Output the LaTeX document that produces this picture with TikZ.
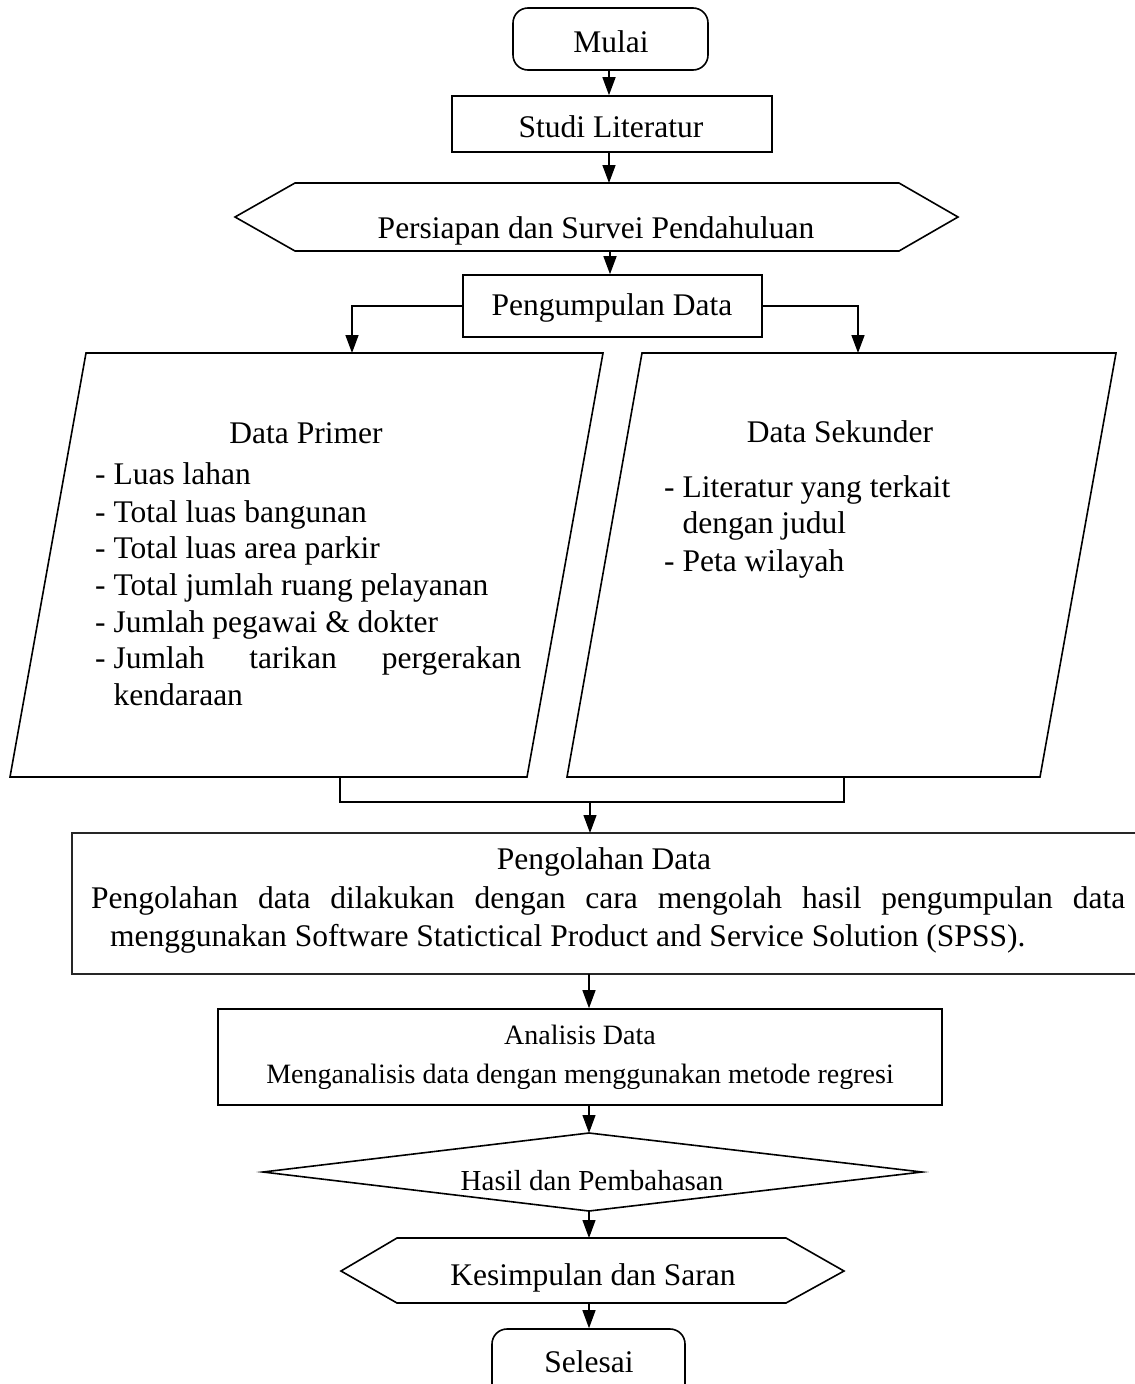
\documentclass[tikz,border=0pt]{standalone}
\usepackage{fontspec}
\setmainfont{Liberation Serif}
\usetikzlibrary{arrows.meta}
\begin{document}
\begin{tikzpicture}[x=1pt,y=-1pt,
  shp/.style={draw, line width=1.6pt, line join=miter, inner sep=0pt},
  arr/.style={line width=1.5pt, -{Triangle[width=13pt,length=18pt]}},
  ln/.style={line width=1.6pt},
  txt/.style={inner sep=0pt, anchor=base, font=\fontsize{31.5}{37}\selectfont},
  stxt/.style={inner sep=0pt, anchor=base, font=\fontsize{28}{33}\selectfont},
  ltxt/.style={inner sep=0pt, anchor=base west, font=\fontsize{31.5}{37}\selectfont},
]
\useasboundingbox (0,0) rectangle (1135,1384);
\clip (0,0) rectangle (1135,1384);
\fill[white] (0,0) rectangle (1135,1384);

% Mulai
\node[shp, rectangle, rounded corners=15pt, minimum width=195pt, minimum height=62pt] (mulai) at (610.5,39) {};
\node[txt] (mulaiT) at (611,52) {Mulai};

% Studi Literatur
\node[shp, rectangle, minimum width=320pt, minimum height=56pt] (studi) at (612,124) {};
\node[txt] (studiT) at (611,137) {Studi Literatur};

% Persiapan hexagon
\coordinate (pL) at (235,217);
\coordinate (pTL) at (295,183);
\coordinate (pTR) at (899,183);
\coordinate (pR) at (958,217);
\coordinate (pBR) at (899,251);
\coordinate (pBL) at (295,251);
\draw[ln, line join=miter] (pL) -- (pTL) -- (pTR) -- (pR) -- (pBR) -- (pBL) -- cycle;
\coordinate (pTop) at (609,183);
\coordinate (pBot) at (610,251);
\node[txt] (persT) at (596,238) {Persiapan dan Survei Pendahuluan};

% Pengumpulan Data
\node[shp, rectangle, minimum width=299pt, minimum height=62pt] (peng) at (612.5,306) {};
\node[txt] (pengT) at (612,315) {Pengumpulan Data};

% Parallelograms
\coordinate (a1) at (86,353);
\coordinate (a2) at (603,353);
\coordinate (a3) at (527,777);
\coordinate (a4) at (10,777);
\draw[ln, line join=miter] (a1) -- (a2) -- (a3) -- (a4) -- cycle;
\coordinate (b1) at (642,353);
\coordinate (b2) at (1116,353);
\coordinate (b3) at (1040,777);
\coordinate (b4) at (567,777);
\draw[ln, line join=miter] (b1) -- (b2) -- (b3) -- (b4) -- cycle;
\coordinate (p1top) at (352,353);
\coordinate (p2top) at (858,353);

\node[txt] (dpT) at (306,443) {Data Primer};
\node[ltxt] (dp1) at (95,484) {- Luas lahan};
\node[ltxt] (dp2) at (95,522) {- Total luas bangunan};
\node[ltxt] (dp3) at (95,558) {- Total luas area parkir};
\node[ltxt] (dp4) at (95,595) {- Total jumlah ruang pelayanan};
\node[ltxt] (dp5) at (95,632) {- Jumlah pegawai \& dokter};
\node[ltxt] (dp6) at (95,668) {\hbox to 426pt{- Jumlah\hfill tarikan\hfill pergerakan}};
\node[ltxt] (dp7) at (95,705) {\phantom{- }kendaraan};

\node[txt] (dsT) at (840,442) {Data Sekunder};
\node[ltxt] (ds1) at (664,497) {- Literatur yang terkait};
\node[ltxt] (ds2) at (664,533) {\phantom{- }dengan judul};
\node[ltxt] (ds3) at (664,571) {- Peta wilayah};

% merge
\coordinate (m1) at (340,777);
\coordinate (m2) at (844,777);
\coordinate (mj) at (590,802);
\draw[ln] (m1) -- (m1 |- mj) -- (m2 |- mj) -- (m2);

% Pengolahan
\coordinate (olTop) at (590,833);
\coordinate (olBot) at (589,974);
\draw[line width=1.4pt, black!85] (1140,833) -- (72,833) -- (72,974) -- (1140,974);
\node[txt] (olT) at (604,869) {Pengolahan Data};
\node[ltxt] (ol2) at (91,908) {\hbox to 1034pt{Pengolahan\hfill data\hfill dilakukan\hfill dengan\hfill cara\hfill mengolah\hfill hasil\hfill pengumpulan\hfill data}};
\node[ltxt] (ol3) at (110,946) {menggunakan Software Statictical Product and Service Solution (SPSS).};

% Analisis
\node[shp, rectangle, minimum width=724pt, minimum height=96pt] (anal) at (580,1057) {};
\node[stxt] (analT) at (580,1044) {Analisis Data};
\node[stxt] (anal2) at (580,1083) {Menganalisis data dengan menggunakan metode regresi};

% Diamond
\coordinate (dT) at (589,1133);
\coordinate (dR) at (922,1172);
\coordinate (dB) at (589,1211);
\coordinate (dL) at (263,1172);
\draw[ln, line join=miter] (dT) -- (dR) -- (dB) -- (dL) -- cycle;
\node[txt, font=\fontsize{29}{34}\selectfont] (hasT) at (592,1190) {Hasil dan Pembahasan};

% Kesimpulan hexagon
\coordinate (kL) at (341,1271);
\coordinate (kTL) at (397,1238);
\coordinate (kTR) at (786,1238);
\coordinate (kR) at (844,1271);
\coordinate (kBR) at (786,1303);
\coordinate (kBL) at (397,1303);
\draw[ln, line join=miter] (kL) -- (kTL) -- (kTR) -- (kR) -- (kBR) -- (kBL) -- cycle;
\coordinate (kTop) at (589,1238);
\coordinate (kBot) at (589,1303);
\node[txt] (kesT) at (593,1285) {Kesimpulan dan Saran};

% Selesai
\node[shp, rectangle, rounded corners=15pt, minimum width=193pt, minimum height=71pt] (sel) at (588.5,1364.5) {};
\node[txt] (selT) at (589,1372) {Selesai};

% arrows
\draw[arr] (mulai.south -| pTop) -- (studi.north -| pTop);
\draw[arr] (studi.south -| pTop) -- (pTop);
\draw[arr] (pBot) -- (peng.north -| pBot);
\draw[arr] (peng.west) -| (p1top);
\draw[arr] (peng.east) -| (p2top);
\draw[line width=1.2pt, -{Triangle[width=13pt,length=18pt]}] (mj) -- (olTop);
\draw[line width=1.2pt, -{Triangle[width=13pt,length=18pt]}] (olBot) -- (anal.north -| olBot);
\draw[line width=1.2pt, -{Triangle[width=13pt,length=18pt]}] (anal.south -| dT) -- (dT);
\draw[line width=1.2pt, -{Triangle[width=13pt,length=18pt]}] (dB) -- (kTop);
\draw[line width=1.2pt, -{Triangle[width=13pt,length=18pt]}] (kBot) -- (sel.north -| kBot);
\end{tikzpicture}
\end{document}
